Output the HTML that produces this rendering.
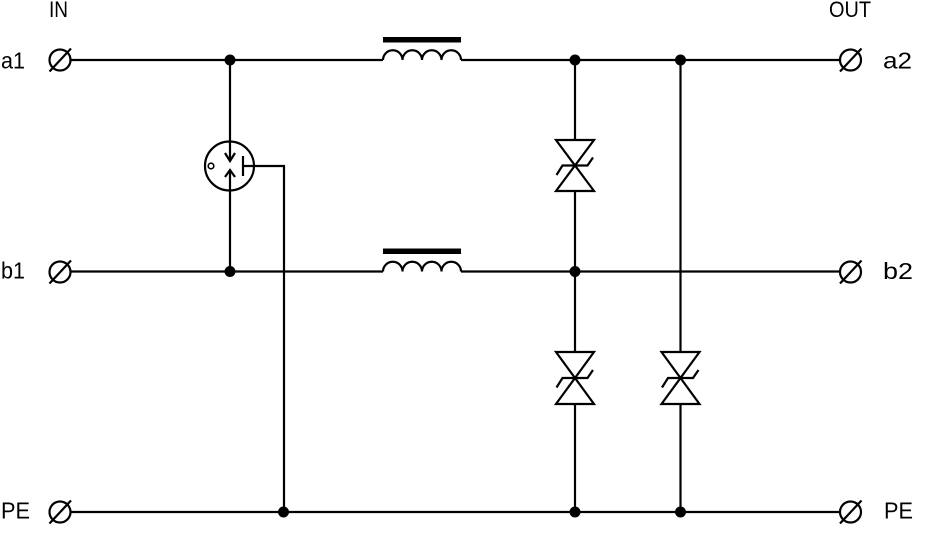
<!DOCTYPE html>
<html><head><meta charset="utf-8"><style>
html,body{margin:0;padding:0;background:#fff;}
svg{display:block;}
</style></head><body>
<svg width="927" height="533" viewBox="0 0 927 533" xmlns="http://www.w3.org/2000/svg">
<g stroke="#000" stroke-width="2.2" fill="none">
  <!-- main wires -->
  <line x1="71" y1="60" x2="383" y2="60"/>
  <line x1="461" y1="60" x2="839.5" y2="60"/>
  <line x1="71" y1="271.5" x2="383" y2="271.5"/>
  <line x1="461" y1="271.5" x2="839.5" y2="271.5"/>
  <line x1="71" y1="512" x2="839.5" y2="512"/>
  <!-- inductors -->
  <path d="M383,60 a9.75,9.75 0 0 1 19.5,0 a9.75,9.75 0 0 1 19.5,0 a9.75,9.75 0 0 1 19.5,0 a9.75,9.75 0 0 1 19.5,0"/>
  <path d="M383,271.5 a9.75,9.75 0 0 1 19.5,0 a9.75,9.75 0 0 1 19.5,0 a9.75,9.75 0 0 1 19.5,0 a9.75,9.75 0 0 1 19.5,0"/>
  <!-- GDT -->
  <line x1="230" y1="60" x2="230" y2="161"/>
  <polyline points="225,153 230,161 235,153"/>
  <line x1="230" y1="170" x2="230" y2="271.5"/>
  <polyline points="225,177 230,170 235,177"/>
  <circle cx="229.5" cy="166" r="24.5"/>
  <circle cx="211" cy="166" r="2.8" stroke-width="1.6"/>
  <line x1="243" y1="156" x2="243" y2="176"/>
  <polyline points="243,166 284,166 284,512"/>
  <!-- vertical at 575 -->
  <line x1="575" y1="60" x2="575" y2="140"/>
  <line x1="575" y1="191" x2="575" y2="352"/>
  <line x1="575" y1="404" x2="575" y2="512"/>
  <!-- vertical at 680 -->
  <line x1="680.5" y1="60" x2="680.5" y2="352"/>
  <line x1="680.5" y1="404" x2="680.5" y2="512"/>
  <!-- TVS -->
  <g transform="translate(575,165.5)">
    <polygon points="-19,-25.5 19,-25.5 0,0"/>
    <polygon points="-19,25.5 19,25.5 0,0"/>
    <polyline points="-18.5,9.5 -12.5,0 12.5,0 18,-8"/>
  </g>
  <g transform="translate(575,378)">
    <polygon points="-19,-26 19,-26 0,0"/>
    <polygon points="-19,26 19,26 0,0"/>
    <polyline points="-18.5,9.5 -12.5,0 12.5,0 18,-8"/>
  </g>
  <g transform="translate(680.5,378)">
    <polygon points="-19,-26 19,-26 0,0"/>
    <polygon points="-19,26 19,26 0,0"/>
    <polyline points="-18.5,9.5 -12.5,0 12.5,0 18,-8"/>
  </g>
  <!-- terminals -->
  <circle cx="60" cy="60" r="10.5"/><line x1="49.5" y1="71.5" x2="71" y2="48.5"/>
  <circle cx="60" cy="272" r="10.5"/><line x1="49.5" y1="283.5" x2="71" y2="260.5"/>
  <circle cx="60" cy="512" r="10.5"/><line x1="49.5" y1="523.5" x2="71" y2="500.5"/>
  <circle cx="850.5" cy="60" r="10.5"/><line x1="840" y1="71.5" x2="861.5" y2="48.5"/>
  <circle cx="850.5" cy="272" r="10.5"/><line x1="840" y1="283.5" x2="861.5" y2="260.5"/>
  <circle cx="850.5" cy="512" r="10.5"/><line x1="840" y1="523.5" x2="861.5" y2="500.5"/>
</g>
<!-- inductor bars -->
<rect x="383" y="37" width="78" height="5.5" fill="#000"/>
<rect x="383" y="248.5" width="78" height="5.5" fill="#000"/>
<!-- junction dots -->
<g fill="#000">
  <circle cx="230" cy="60" r="5.5"/>
  <circle cx="230" cy="271.5" r="5.5"/>
  <circle cx="575" cy="60" r="5.5"/>
  <circle cx="680.5" cy="60" r="5.5"/>
  <circle cx="575" cy="271.5" r="5.5"/>
  <circle cx="283.5" cy="512" r="5.5"/>
  <circle cx="575" cy="512" r="5.5"/>
  <circle cx="680.5" cy="512" r="5.5"/>
</g>
<!-- labels -->
<g font-family="Liberation Sans, sans-serif" font-size="23" fill="#000">
<text x="49" y="17" font-size="22" textLength="19" lengthAdjust="spacingAndGlyphs">IN</text>
<text x="829" y="17" font-size="22" textLength="42" lengthAdjust="spacingAndGlyphs">OUT</text>
<text x="1" y="68.5" font-size="23" textLength="24" lengthAdjust="spacingAndGlyphs">a1</text>
<text x="1" y="278.5" font-size="23" textLength="24" lengthAdjust="spacingAndGlyphs">b1</text>
<text x="1" y="518.5" font-size="23" textLength="29" lengthAdjust="spacingAndGlyphs">PE</text>
<text x="883" y="68.5" font-size="23" textLength="29" lengthAdjust="spacingAndGlyphs">a2</text>
<text x="883" y="279" font-size="23" textLength="30" lengthAdjust="spacingAndGlyphs">b2</text>
<text x="884" y="518.5" font-size="23" textLength="29" lengthAdjust="spacingAndGlyphs">PE</text>
</g>
</svg>
</body></html>
